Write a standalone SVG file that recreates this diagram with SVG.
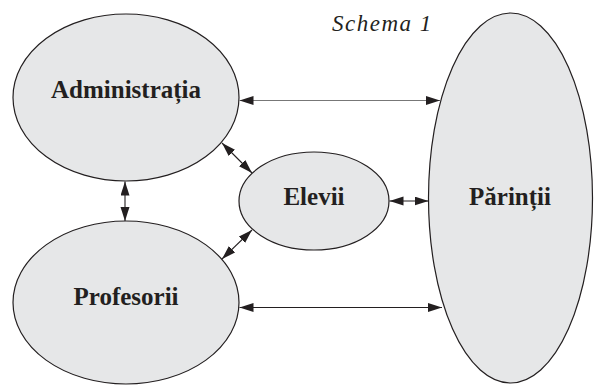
<svg xmlns="http://www.w3.org/2000/svg" width="594" height="386" viewBox="0 0 594 386">
<style>
.node{fill:#e6e7e8;stroke:#231f20;stroke-width:1.2}
.lbl{font-family:"Liberation Serif","Times New Roman",serif;font-weight:bold;font-size:25px;fill:#231f20;text-anchor:middle}
.ttl{font-family:"Liberation Serif","Times New Roman",serif;font-style:italic;font-size:23px;letter-spacing:1.5px;fill:#231f20}
.c{stroke:#231f20;stroke-width:1.1;fill:none;marker-start:url(#ah);marker-end:url(#ah)}
</style>
<defs>
<marker id="ah" markerUnits="userSpaceOnUse" markerWidth="15" markerHeight="10" refX="14" refY="4.5" orient="auto-start-reverse">
<path d="M0,0 L14,4.5 L0,9 z" fill="#231f20"/>
</marker>
</defs>
<rect width="594" height="386" fill="#fff"/>
<text class="ttl" x="332" y="31">Schema 1</text>
<g id="administratia">
<ellipse class="node" cx="126" cy="97.5" rx="113" ry="83.5"/>
<text class="lbl" x="126" y="98">Administrația</text>
</g>
<g id="profesorii">
<ellipse class="node" cx="126" cy="302.5" rx="113" ry="81.5"/>
<text class="lbl" x="126" y="305">Profesorii</text>
</g>
<g id="elevii">
<ellipse class="node" cx="314" cy="201" rx="75" ry="49"/>
<text class="lbl" x="314" y="205">Elevii</text>
</g>
<g id="parintii">
<ellipse class="node" cx="510.5" cy="198" rx="82" ry="185"/>
<text class="lbl" x="510" y="205">Părinții</text>
</g>
<g id="connectors">
<line class="c" x1="239.5" y1="100.5" x2="440" y2="100.5" style="stroke:#777"/>
<line class="c" x1="239.5" y1="307.5" x2="442" y2="307.5"/>
<line class="c" x1="389.5" y1="201" x2="428.5" y2="201"/>
<line class="c" x1="125" y1="181.5" x2="125" y2="221"/>
<line class="c" x1="222" y1="143" x2="252" y2="173"/>
<line class="c" x1="222" y1="259" x2="252" y2="230"/>
</g>
</svg>
